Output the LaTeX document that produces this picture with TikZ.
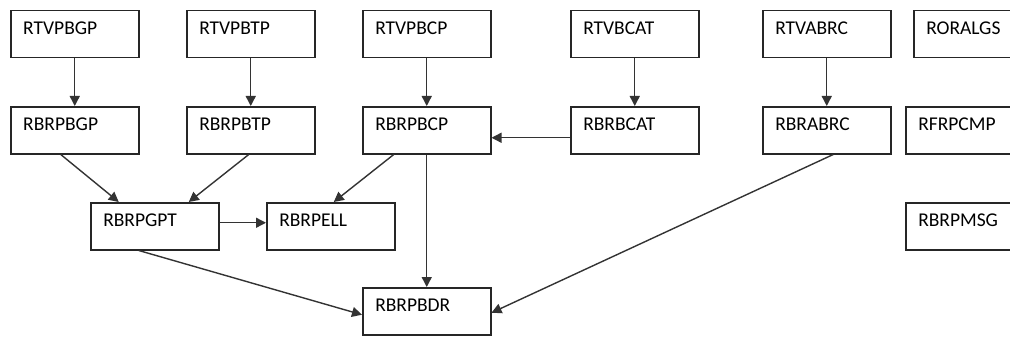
\documentclass[tikz,border=0pt]{standalone}
\usepackage{fontspec}
\setmainfont{Carlito}
\usetikzlibrary{arrows.meta}
\begin{document}
\begin{tikzpicture}[x=1pt,y=-1pt,
    prog/.style={draw=black!85,line width=1.5pt,anchor=north west,inner xsep=12.5pt,inner ysep=0pt,
      text width=103pt,align=left,text height=24pt,text depth=23pt,
      font=\fontsize{19.5}{22}\selectfont,text=black},
    call/.style={draw=black!80,line width=1.4pt,-{Triangle[length=10pt,width=10pt]}}]
  \useasboundingbox (0,0) rectangle (1010,337);
  % top row
  \node[prog] (tvbgp) at (10,10) {RTVPBGP};
  \node[prog] (tvbtp) at (186,10) {RTVPBTP};
  \node[prog] (tvbcp) at (362,10) {RTVPBCP};
  \node[prog] (tvcat) at (570,10) {RTVBCAT};
  \node[prog] (tvabrc) at (762,10) {RTVABRC};
  \node[prog] (oralgs) at (913,10) {RORALGS};
  % second row
  \node[prog] (rbbgp) at (10,106) {RBRPBGP};
  \node[prog] (rbbtp) at (186,106) {RBRPBTP};
  \node[prog] (rbbcp) at (362,106) {RBRPBCP};
  \node[prog] (rbcat) at (570,106) {RBRBCAT};
  \node[prog] (rbabrc) at (762,106) {RBRABRC};
  \node[prog] (frcmp) at (905,106) {RFRPCMP};
  % third row
  \node[prog] (gpt) at (90,202) {RBRPGPT};
  \node[prog] (ell) at (266,202) {RBRPELL};
  \node[prog] (msg) at (905,202) {RBRPMSG};
  % bottom
  \node[prog] (bdr) at (362,287) {RBRPBDR};
  \draw[call] (tvbgp.south) -- (rbbgp.north);
  \draw[call] (tvbtp.south) -- (rbbtp.north);
  \draw[call] (tvbcp.south) -- (rbbcp.north);
  \draw[call] (tvcat.south) -- (rbcat.north);
  \draw[call] (tvabrc.south) -- (rbabrc.north);
  \draw[call] ([yshift=-7.5pt]rbcat.west) -- ([yshift=-7.5pt]rbbcp.east);
  \draw[call] ([xshift=-14pt]rbbgp.south) -- ([xshift=-36pt]gpt.north);
  \draw[call] ([xshift=-2pt]rbbtp.south) -- ([xshift=34pt]gpt.north);
  \draw[call] ([xshift=-33pt]rbbcp.south) -- ([xshift=3pt]ell.north);
  \draw[call] (rbbcp.south) -- (bdr.north);
  \draw[call] ([yshift=3.5pt]gpt.east) -- ([yshift=3.5pt]ell.west);
  \draw[call] ([xshift=-16pt]gpt.south) -- ([yshift=-3.5pt]bdr.west);
  \draw[call] ([xshift=6.5pt]rbabrc.south) -- ([yshift=-1.5pt]bdr.east);
\end{tikzpicture}
\end{document}
